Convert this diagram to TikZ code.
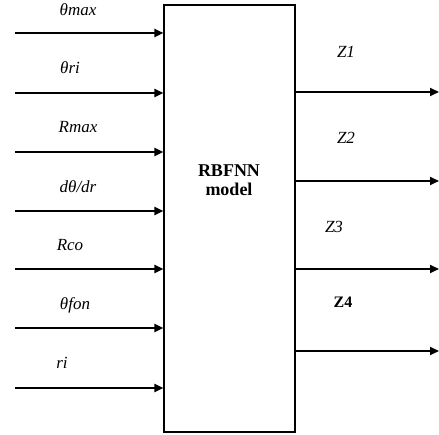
\documentclass[tikz,border=0pt]{standalone}
\usepackage{fontspec}
\setmainfont{Liberation Serif}
\usetikzlibrary{arrows.meta,positioning,calc}
\tikzset{
  modelbox/.style={draw, line width=1.1pt, minimum width=131pt, minimum height=427pt, inner sep=0pt},
  modeltext/.style={font=\fontsize{18}{19}\selectfont\bfseries, align=center},
  sigin/.style={-{Triangle[length=9pt, width=8pt]}, line width=2pt},
  sigout/.style={-{Triangle[length=9pt, width=8pt]}, line width=2pt},
  siglabel/.style={font=\fontsize{17}{18}\selectfont\itshape, inner sep=1pt}
}

\begin{document}
\begin{tikzpicture}[x=1pt, y=-1pt]
  \useasboundingbox (0,0) rectangle (439,435);
  % model block
  \node[modelbox] (rbf) at (229.5,218.5) {};
  \node[modeltext] (mdl) at (229,180) {RBFNN\\model};

  % inputs
  \coordinate (i1) at (15,33);
  \coordinate (i2) at (15,93);
  \coordinate (i3) at (15,152);
  \coordinate (i4) at (15,211);
  \coordinate (i5) at (15,269);
  \coordinate (i6) at (15,328);
  \coordinate (i7) at (15,388);
  \draw[sigin] (i1) -- (i1 -| rbf.west);
  \draw[sigin] (i2) -- (i2 -| rbf.west);
  \draw[sigin] (i3) -- (i3 -| rbf.west);
  \draw[sigin] (i4) -- (i4 -| rbf.west);
  \draw[sigin] (i5) -- (i5 -| rbf.west);
  \draw[sigin] (i6) -- (i6 -| rbf.west);
  \draw[sigin] (i7) -- (i7 -| rbf.west);
  \node[siglabel] (l1) at (78,10) {θmax};
  \node[siglabel] (l2) at (70,68) {θri};
  \node[siglabel] (l3) at (78,127) {Rmax};
  \node[siglabel] (l4) at (78,187) {dθ/dr};
  \node[siglabel] (l5) at (70,245) {Rco};
  \node[siglabel] (l6) at (75,305) {θfon};
  \node[siglabel] (l7) at (62,363) {ri};

  % outputs
  \coordinate (o1) at (439,92);
  \coordinate (o2) at (439,181);
  \coordinate (o3) at (439,269);
  \coordinate (o4) at (439,351);
  \draw[sigout] (o1 -| rbf.east) -- (o1);
  \draw[sigout] (o2 -| rbf.east) -- (o2);
  \draw[sigout] (o3 -| rbf.east) -- (o3);
  \draw[sigout] (o4 -| rbf.east) -- (o4);
  \node[siglabel] (z1) at (346,52) {Z1};
  \node[siglabel] (z2) at (346,138) {Z2};
  \node[siglabel] (z3) at (334,227) {Z3};
  \node[siglabel, font=\fontsize{16}{17}\selectfont\bfseries] (z4) at (343,302) {Z4};
\end{tikzpicture}
\end{document}
